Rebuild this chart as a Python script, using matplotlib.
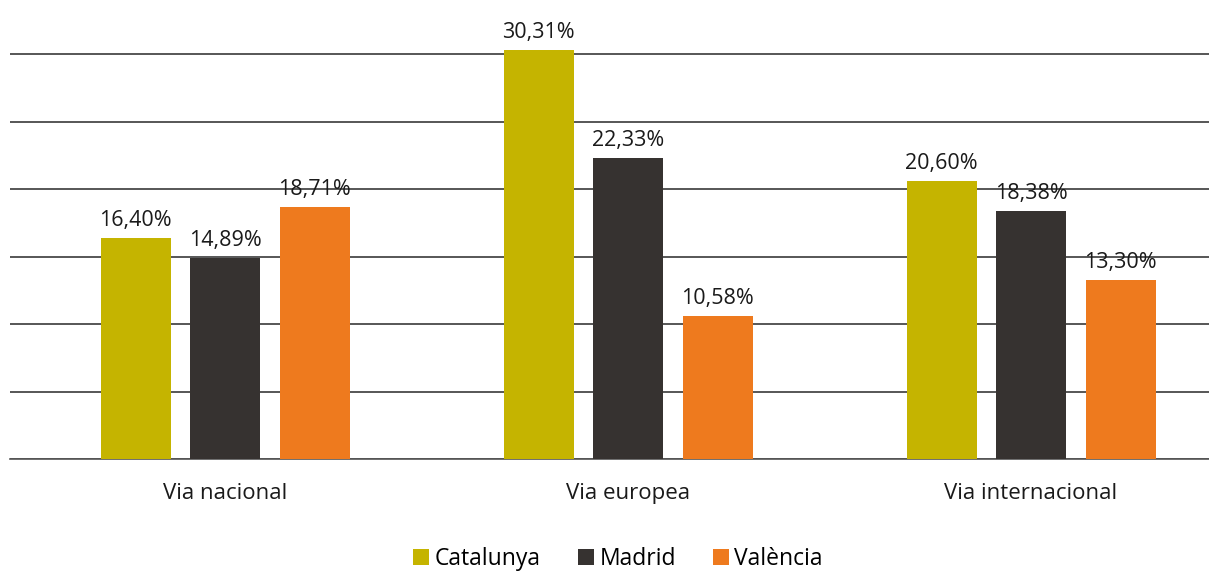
import matplotlib.pyplot as plt
import numpy as np

plt.rcParams['font.family'] = ['Open Sans', 'DejaVu Sans']

categories = ['Via nacional', 'Via europea', 'Via internacional']
series = ['Catalunya', 'Madrid', 'València']
values = {
    'Catalunya': [16.40, 30.31, 20.60],
    'Madrid': [14.89, 22.33, 18.38],
    'València': [18.71, 10.58, 13.30],
}
colors = ['#C5B400', '#363230', '#EE7A1E']

fig = plt.figure(figsize=(12.09, 5.74), dpi=100)
ax = fig.add_axes([10 / 1209, 1 - 459 / 574, 1199 / 1209, (459 - 34) / 574])

x = np.arange(len(categories))
w = 70 / 403
step = 89.5 / 403
for i, (name, c) in enumerate(zip(series, colors)):
    vals = values[name]
    bars = ax.bar(x + (i - 1) * step, vals, width=w, color=c, label=name, zorder=3)
    for b, v in zip(bars, vals):
        ax.annotate(f'{v:.2f}%'.replace('.', ','), (b.get_x() + b.get_width() / 2, v),
                    xytext=(0, 5), textcoords='offset points', ha='center', va='bottom',
                    fontsize=15.5, color='#1a1a1a')

ax.set_xlim(-215 / 403, (1209 - 225) / 403)
ax.set_ylim(0, 31.5)
ax.set_yticks(np.arange(0, 31, 5))
ax.yaxis.grid(True, color='#3a3a3a', linewidth=1.2, zorder=0)
ax.tick_params(axis='y', left=False, labelleft=False)
ax.tick_params(axis='x', bottom=False, labelsize=16, pad=14, labelcolor='#1a1a1a')
ax.set_xticks(x)
ax.set_xticklabels(categories)
for s in ['top', 'right', 'left']:
    ax.spines[s].set_visible(False)
ax.spines['bottom'].set_color('#555555')
ax.spines['bottom'].set_linewidth(1.2)

fig.legend(loc='center', bbox_to_anchor=(618 / 1209, 1 - 559 / 574), ncol=3, frameon=False,
           fontsize=16.5, handlelength=0.7, handleheight=0.7, handletextpad=0.25,
           columnspacing=1.6, borderpad=0, borderaxespad=0)

fig.savefig('out.png', dpi=100)
